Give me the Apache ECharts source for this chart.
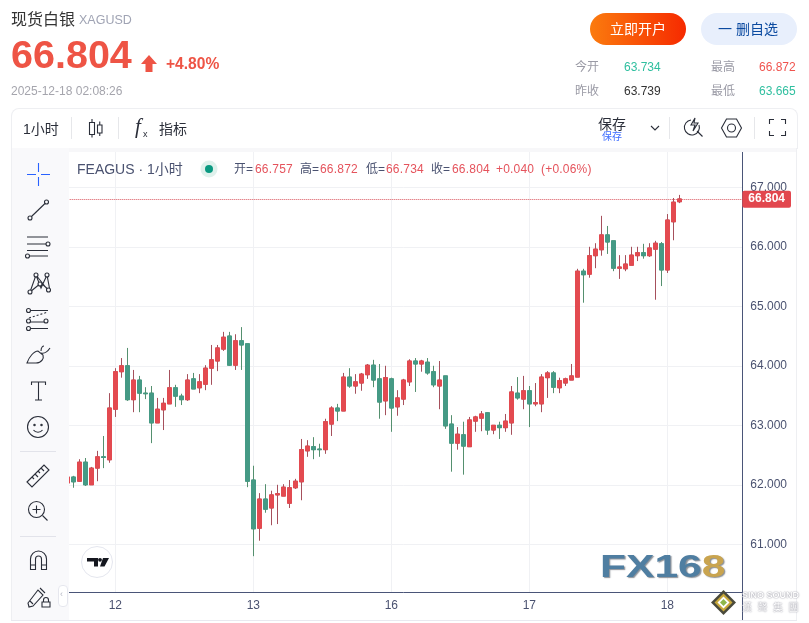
<!DOCTYPE html>
<html>
<head>
<meta charset="utf-8">
<title>现货白银 XAGUSD</title>
<script src="https://cdn.jsdelivr.net/npm/echarts@6/dist/echarts.min.js"></script>
<style>
    html, body { margin: 0; padding: 0; background: #fff; }
    body { width: 809px; height: 623px; position: relative; overflow: hidden; font-family: "Liberation Sans", "Noto Sans CJK SC", sans-serif; }
    #chart { position: absolute; left: 0; top: 0; width: 809px; height: 623px; }
    .t { position: absolute; white-space: nowrap; line-height: 1; }
    .box { position: absolute; }
    svg { position: absolute; overflow: visible; fill: none; stroke: #2a2e39; stroke-width: 1.1; }
    .up { color: #e5535c; }
    .lb { color: #4a5270; }
</style>
</head>
<body>

<div id="chart"></div>

<!-- Page frame around the chart -->
<div class="box" style="left:11px;top:108px;width:785px;height:40px;border:1px solid #eeeff2;border-bottom:0;border-radius:8px 8px 0 0;background:#fff"></div>
<div class="box" style="left:12px;top:148px;width:784px;height:4px;background:#f7f7f9"></div>
<div class="box" style="left:11px;top:148px;width:57px;height:472px;background:#f9f9fb;border-left:1px solid #eeeff2"></div>
<div class="box" style="left:796px;top:148px;width:1px;height:472px;background:#eeeff2"></div>
<div class="box" style="left:11px;top:620px;width:786px;height:1px;background:#e9e9f0"></div>
<div class="box" style="left:742px;top:592px;width:1px;height:28px;background:#4a5578"></div>

<!-- Header -->
<div class="t" style="left:11px;top:12px;font-size:16px;color:#333">现货白银</div>
<div class="t" style="left:79px;top:14px;font-size:12.5px;color:#a0a4b4">XAGUSD</div>
<div class="t" style="left:11px;top:35px;font-size:39.5px;font-weight:bold;color:#ee5445">66.804</div>
<svg style="left:141px;top:55px;stroke:none" width="16" height="17"><path d="M8 0 L16 9 L11.5 9 L11.5 17 L4.5 17 L4.5 9 L0 9 Z" fill="#ee5445"/></svg>
<div class="t" style="left:166px;top:56px;font-size:15.6px;font-weight:bold;color:#ee5445">+4.80%</div>
<div class="t" style="left:11px;top:85px;font-size:12px;color:#a5a5ad">2025-12-18 02:08:26</div>

<div class="box" style="left:590px;top:13px;width:96px;height:32px;border-radius:16px;background:linear-gradient(90deg,#fb7b0e,#f62a00)"></div>
<div class="t" style="left:610px;top:22px;font-size:14px;color:#fff">立即开户</div>
<div class="box" style="left:701px;top:13px;width:96px;height:32px;border-radius:16px;background:#e8effc"></div>
<div class="t" style="left:718px;top:22px;font-size:14px;color:#0b4aa0">一 删自选</div>

<div class="t" style="left:575px;top:61px;font-size:12px;color:#9a9aa5">今开</div>
<div class="t" style="left:624px;top:61px;font-size:12px;color:#2fbf9f">63.734</div>
<div class="t" style="left:711px;top:61px;font-size:12px;color:#9a9aa5">最高</div>
<div class="t" style="left:759px;top:61px;font-size:12px;color:#f0534e">66.872</div>
<div class="t" style="left:575px;top:85px;font-size:12px;color:#9a9aa5">昨收</div>
<div class="t" style="left:624px;top:85px;font-size:12px;color:#333">63.739</div>
<div class="t" style="left:711px;top:85px;font-size:12px;color:#9a9aa5">最低</div>
<div class="t" style="left:759px;top:85px;font-size:12px;color:#2fbf9f">63.665</div>

<!-- Top toolbar -->
<div class="t" style="left:23px;top:122px;font-size:14px;color:#2a2e39">1小时</div>
<div class="box" style="left:71px;top:117px;width:1px;height:22px;background:#e6e7ea"></div>
<svg style="left:88px;top:119px" width="16" height="20">
    <path d="M1.500 3.500h5v12h-5z M4 0v3.500 M4 15.500v3 M9.500 6h4.500v8h-4.500z M11.750 2.500v3.500 M11.750 14v3"/>
</svg>
<div class="box" style="left:118px;top:117px;width:1px;height:22px;background:#e6e7ea"></div>
<div class="t" style="left:135px;top:116px;font-size:21px;font-style:italic;font-family:'Liberation Serif';color:#2a2e39">f</div>
<div class="t" style="left:143px;top:130px;font-size:9px;color:#2a2e39">x</div>
<div class="t" style="left:159px;top:122px;font-size:14px;color:#2a2e39">指标</div>
<div class="t" style="left:598px;top:117px;font-size:14px;color:#2a2e39">保存</div>
<div class="t" style="left:602px;top:132px;font-size:10px;color:#3d6dff">保存</div>
<svg style="left:650px;top:125px" width="10" height="6"><path d="M1 1l4 4l4-4"/></svg>
<div class="box" style="left:669px;top:117px;width:1px;height:22px;background:#e6e7ea"></div>
<svg style="left:684px;top:117px" width="20" height="22">
    <path d="M7 3a7.500 7.500 0 1 0 8 5 M13 14l5.500 5.500 M11 1l-4 7h4l-2 6l5-8h-4z"/>
</svg>
<svg style="left:721px;top:118px" width="21" height="20">
    <path d="M5.500 1h10l5 9l-5 9h-10l-5-9z"/><circle cx="10.500" cy="10" r="4"/>
</svg>
<div class="box" style="left:754px;top:117px;width:1px;height:22px;background:#e6e7ea"></div>
<svg style="left:769px;top:119px" width="17" height="17">
    <path d="M0.500 5v-4.500h4.500 M12 0.500h4.500v4.500 M16.500 12v4.500h-4.500 M5 16.500h-4.500v-4.500"/>
</svg>

<!-- Left drawing toolbar -->
<svg style="left:27px;top:163px;stroke:#2962ff" width="23" height="23">
    <path d="M11.500 0v9 M11.500 14v9 M0 11.500h9 M14 11.500h9"/>
</svg>
<svg style="left:27px;top:199px" width="23" height="23">
    <circle cx="3" cy="19" r="2"/><circle cx="19.500" cy="3" r="2"/><path d="M4.500 17.500L18 4.500"/>
</svg>
<svg style="left:25px;top:236px" width="25" height="22">
    <path d="M2 1h21 M2 8h19 M4 20h19 M2 14.500h21"/><circle cx="23" cy="8" r="2" fill="#f9f9fb"/><circle cx="2.500" cy="20" r="2" fill="#f9f9fb"/>
</svg>
<svg style="left:27px;top:272px" width="24" height="23">
    <path d="M3 20L9 3l5 13L20 3l3 16M3 20l11-9 9 8M9 3l11 14"/>
    <circle cx="3" cy="20" r="2" fill="#f9f9fb"/><circle cx="9" cy="3" r="2" fill="#f9f9fb"/><circle cx="20" cy="3" r="2" fill="#f9f9fb"/><circle cx="21.500" cy="18" r="2" fill="#f9f9fb"/><circle cx="13" cy="12" r="2" fill="#f9f9fb"/>
</svg>
<svg style="left:25px;top:309px" width="25" height="21">
    <path d="M4 1.500h19 M4 13h17 M4 19.500h19"/><path d="M4 9l19-6" stroke-dasharray="2 2"/>
    <circle cx="3.500" cy="1.500" r="2" fill="#f9f9fb"/><circle cx="3.500" cy="12" r="2" fill="#f9f9fb"/><circle cx="3.500" cy="19.500" r="2" fill="#f9f9fb"/><circle cx="21" cy="12" r="2" fill="#f9f9fb"/>
</svg>
<svg style="left:26px;top:345px" width="25" height="20">
    <path d="M1 18h9c6 0 8-5 7-8l-5-4c-4 0-9 6-11 12z M15 6c0-4 2-5 3-5 M15 8c4 1 7-2 9-5"/>
</svg>
<svg style="left:31px;top:381px" width="15" height="20"><path d="M0.500 4V1h14v3 M7.500 1v18 M4 19h7"/></svg>
<svg style="left:27px;top:416px" width="22" height="22">
    <circle cx="11" cy="11" r="10.500"/><circle cx="7.500" cy="9" r="0.700"/><circle cx="14.500" cy="9" r="0.700"/><path d="M6.500 14c2 3 7 3 9 0"/>
</svg>
<div class="box" style="left:20px;top:451px;width:36px;height:1px;background:#e2e3ea"></div>
<svg style="left:26px;top:464px" width="24" height="24">
    <path d="M1 18L18 1l5 5L6 23z M6 13l2 2 M9 10l3 3 M12 7l2 2 M15 4l3 3"/>
</svg>
<svg style="left:28px;top:501px" width="20" height="20">
    <circle cx="8.500" cy="8.500" r="8"/><path d="M14.500 14.500l5 5 M4.500 8.500h8 M8.500 4.500v8"/>
</svg>
<div class="box" style="left:20px;top:536px;width:36px;height:1px;background:#e2e3ea"></div>
<svg style="left:30px;top:551px" width="17" height="19">
    <path d="M0.500 18.500V8a8 8 0 0 1 16 0v10.500h-5V8a3 3 0 0 0-6 0v10.500z M0.500 14h5 M11.500 14h5"/>
</svg>
<svg style="left:27px;top:587px" width="24" height="21">
    <path d="M1 16l1 4 4-1L16 8l-5-5z M3 14l3 3 M13 1l5 5"/><path d="M15 15h8v5h-8z M16.500 15v-2a2.500 2.500 0 0 1 5 0v2"/>
</svg>
<div class="box" style="left:58px;top:585px;width:8px;height:20px;background:#fff;border:1px solid #e6e7ee;border-radius:4px"></div>
<div class="t" style="left:60px;top:590px;font-size:9px;color:#b5b8c4">‹</div>

<!-- Legend line over the plot -->
<div class="t lb" style="left:77px;top:162px;font-size:14px">FEAGUS · 1小时</div>
<svg style="left:200px;top:160px;stroke:none" width="18" height="18"><circle cx="9" cy="9" r="8.500" fill="#dff1ec"/><circle cx="9" cy="9" r="4" fill="#0a9981"/></svg>
<div class="t lb" style="left:234px;top:163px;font-size:12px">开=</div><div class="t up" style="left:255px;top:163px;font-size:12px;letter-spacing:.2px">66.757</div>
<div class="t lb" style="left:300px;top:163px;font-size:12px">高=</div><div class="t up" style="left:320px;top:163px;font-size:12px;letter-spacing:.2px">66.872</div>
<div class="t lb" style="left:366px;top:163px;font-size:12px">低=</div><div class="t up" style="left:386px;top:163px;font-size:12px;letter-spacing:.2px">66.734</div>
<div class="t lb" style="left:431px;top:163px;font-size:12px">收=</div><div class="t up" style="left:452px;top:163px;font-size:12px;letter-spacing:.2px">66.804</div>
<div class="t up" style="left:496px;top:163px;font-size:12px;letter-spacing:.2px">+0.040</div>
<div class="t up" style="left:541px;top:163px;font-size:12px;letter-spacing:.2px">(+0.06%)</div>

<!-- Watermarks -->
<svg style="left:81px;top:546px;stroke:none" width="32" height="32">
    <circle cx="16" cy="16" r="15.500" fill="#fff" stroke="#e4e6ee" stroke-width="1"/>
    <path d="M6 12h11v8.500h-4v-5h-7z M22 12h6l-4.500 8.500h-4.500z" fill="#15171f"/><circle cx="19" cy="13.800" r="1.900" fill="#15171f"/>
</svg>
<div class="t" style="left:600px;top:550px;font-size:32px;font-weight:bold;letter-spacing:0;color:#4f7ea1;text-shadow:1px 1px 1px #8a8f96;transform:scaleX(1.33);transform-origin:0 0">FX16<span style="color:#c9a44f">8</span></div>
<svg style="left:711px;top:590px;stroke:none" width="25" height="25">
    <path d="M12.500 0L25 12.500L12.500 25L0 12.500z" fill="#4a4a3c"/><path d="M12.500 3.500L21.500 12.500L12.500 21.500L3.500 12.500z" fill="#c8a83a"/><path d="M12.500 6.500L18.500 12.500L12.500 18.500L6.500 12.500z" fill="#fff"/><path d="M12.500 9L16 12.500L12.500 16L9 12.500z" fill="#8fb84a"/>
</svg>
<div class="t" style="left:742px;top:591px;font-size:9px;font-weight:bold;color:#fff;text-shadow:0 0 1.500px #667">SINO SOUND</div>
<div class="t" style="left:742px;top:603px;font-size:10px;color:#fff;letter-spacing:5.500px;text-shadow:0 0 1.500px #667">漢聲集團</div>

<script>

// Chart data
// ------------------------------

var opens = [
    62.03, 62.13, 62.06, 62.38, 62.00, 62.28, 62.47, 62.42, 63.27, 63.90, 64.00, 63.43, 63.76, 63.54, 63.54,
    63.04, 63.26, 63.36, 63.63, 63.49, 63.43, 63.78, 63.63, 63.69, 63.96, 64.08, 64.28, 64.50, 64.01, 64.42,
    64.37, 62.08, 61.27, 61.76, 61.61, 61.83, 61.81, 61.69, 61.95, 62.05, 62.57, 62.64, 62.60, 62.59, 63.02,
    63.29, 63.24, 63.81, 63.66, 63.71, 63.85, 64.01, 63.78, 63.41, 63.78, 63.31, 63.44, 63.73, 64.08, 64.03,
    64.06, 63.90, 63.66, 63.83, 63.02, 62.70, 62.84, 62.64, 63.07, 63.12, 63.21, 62.92, 63.00, 62.96, 63.04,
    63.54, 63.44, 63.58, 63.36, 63.36, 63.80, 63.88, 63.63, 63.71, 63.76, 63.81, 65.59, 65.54, 65.85, 65.95,
    66.20, 66.10, 65.64, 65.63, 65.69, 65.85, 65.90, 65.85, 65.96, 66.05, 65.61, 66.42, 66.757
];
var closes = [
    62.13, 62.05, 62.38, 62.00, 62.28, 62.47, 62.46, 63.29, 63.90, 64.00, 63.43, 63.76, 63.54, 63.53, 63.04,
    63.27, 63.37, 63.63, 63.49, 63.43, 63.76, 63.61, 63.73, 63.96, 64.10, 64.30, 64.48, 64.01, 64.42, 64.35,
    62.06, 61.26, 61.76, 61.59, 61.83, 61.85, 61.96, 61.95, 62.06, 62.59, 62.65, 62.59, 62.59, 63.06, 63.29,
    63.24, 63.81, 63.66, 63.73, 63.86, 64.01, 63.76, 63.39, 63.80, 63.29, 63.46, 63.76, 64.08, 64.03, 64.08,
    63.88, 63.68, 63.76, 62.99, 62.70, 62.85, 62.65, 63.09, 63.14, 63.19, 62.92, 63.00, 62.96, 63.07, 63.56,
    63.46, 63.58, 63.36, 63.38, 63.81, 63.88, 63.64, 63.75, 63.78, 63.83, 65.59, 65.53, 65.85, 65.96, 66.20,
    66.08, 65.64, 65.66, 65.71, 65.86, 65.90, 65.85, 65.98, 66.06, 65.61, 66.45, 66.75, 66.804
];
var lows = [
    62.03, 61.95, 62.05, 61.98, 62.00, 62.06, 62.28, 62.37, 63.14, 63.80, 63.41, 63.22, 63.22, 63.44, 62.70,
    63.04, 62.92, 63.36, 63.31, 63.34, 63.41, 63.61, 63.54, 63.59, 63.68, 63.91, 64.25, 64.00, 63.93, 63.93,
    61.96, 60.80, 61.06, 61.53, 61.32, 61.34, 61.81, 61.61, 61.93, 61.74, 62.47, 62.43, 62.47, 62.52, 62.82,
    63.07, 63.24, 63.63, 63.53, 63.58, 63.78, 63.64, 63.11, 63.17, 62.89, 63.16, 63.34, 63.66, 63.56, 63.90,
    63.85, 63.64, 63.27, 62.94, 62.22, 62.59, 62.17, 62.64, 62.89, 62.90, 62.84, 62.85, 62.77, 62.89, 62.84,
    63.43, 63.27, 62.97, 63.32, 63.22, 63.46, 63.54, 63.54, 63.66, 63.76, 63.81, 65.06, 65.48, 65.64, 65.85,
    65.88, 65.59, 65.46, 65.59, 65.69, 65.76, 65.80, 65.83, 65.11, 65.34, 65.56, 66.11, 66.734
];
var highs = [
    62.14, 62.15, 62.43, 62.45, 62.30, 62.57, 62.82, 63.54, 63.96, 64.13, 64.30, 63.93, 63.83, 63.64, 63.66,
    63.46, 63.46, 63.93, 63.68, 63.53, 63.86, 63.88, 63.86, 64.01, 64.35, 64.35, 64.57, 64.57, 64.53, 64.65,
    64.37, 62.32, 61.86, 62.01, 61.90, 62.00, 62.01, 62.08, 62.10, 62.77, 62.75, 62.80, 62.69, 63.11, 63.32,
    63.36, 63.88, 63.96, 63.86, 63.88, 64.03, 64.10, 64.03, 64.00, 63.80, 63.59, 63.78, 64.11, 64.13, 64.10,
    64.13, 64.00, 64.08, 63.83, 63.17, 62.97, 63.06, 63.14, 63.16, 63.24, 63.22, 63.00, 63.06, 63.19, 63.66,
    63.81, 63.83, 63.66, 63.71, 63.86, 63.91, 63.91, 63.80, 63.80, 64.03, 65.63, 65.63, 66.00, 66.06, 66.52,
    66.35, 66.10, 65.86, 65.86, 66.00, 66.00, 66.05, 66.06, 66.10, 66.08, 66.55, 66.82, 66.872
];

// Day labels and the candle each one sits under
var dayLabels = ['12', '13', '16', '17', '18'];
var dayIndexes = [8, 31, 54, 77, 100];

var priceTicks = [61, 62, 63, 64, 65, 66, 67];
var lastPrice = 66.804;

// Candle slots, the last ones stay empty on the right
var slotCount = 113;


// Setup chart
// ------------------------------

var categories = [];
for (var s = 0; s < slotCount; s++) {
    var at = dayIndexes.indexOf(s);
    categories.push(at >= 0 ? dayLabels[at] : '');
}

var wickData = opens.map(function(open, i) {
    return [open, closes[i], lows[i], highs[i]];
});

// Bodies drawn on top of the wicks, they have a brighter colour
var bodyData = opens.map(function(open, i) {
    var close = closes[i];
    return [open, close, Math.min(open, close), Math.max(open, close)];
});

var showDay = function(index, value) {
    return value !== '';
};

var chart = echarts.init(document.getElementById('chart'), null, {renderer: 'canvas'});

chart.setOption({
    animation: false,
    textStyle: {
        fontFamily: '"Liberation Sans", Arial, sans-serif',
        fontSize: 12
    },
    grid: {
        left: 64.3,
        top: 152,
        width: 678,
        height: 440
    },
    xAxis: {
        type: 'category',
        data: categories,
        boundaryGap: true,
        axisLine: {lineStyle: {color: '#4a5578', width: 1}},
        axisTick: {show: false, alignWithLabel: true},
        axisLabel: {
            interval: showDay,
            color: '#4a5270',
            fontSize: 12,
            margin: 8
        },
        splitLine: {
            show: true,
            interval: showDay,
            alignWithLabel: true,
            lineStyle: {color: '#f0f1f4', width: 1}
        }
    },
    yAxis: {
        type: 'value',
        position: 'right',
        min: 60.198,
        max: 67.593,
        axisLine: {show: true, lineStyle: {color: '#4a5578', width: 1}},
        axisTick: {show: false, customValues: priceTicks},
        axisLabel: {
            customValues: priceTicks,
            color: '#4a5270',
            fontSize: 12,
            margin: 8,
            formatter: function(value) {
                return value.toFixed(3);
            }
        },
        splitLine: {
            show: true,
            lineStyle: {color: '#f0f1f4', width: 1}
        }
    },
    series: [{
        name: 'wicks',
        type: 'candlestick',
        data: wickData,
        barWidth: 5,
        itemStyle: {
            color: '#e34a50',
            color0: '#459a85',
            borderColor: '#a6505c',
            borderColor0: '#55906f',
            borderWidth: 1
        }
    }, {
        name: 'bodies',
        type: 'candlestick',
        data: bodyData,
        barWidth: 5,
        itemStyle: {
            color: '#e34a50',
            color0: '#459a85',
            borderColor: '#e34a50',
            borderColor0: '#459a85',
            borderWidth: 1
        },
        markLine: {
            silent: true,
            symbol: 'none',
            lineStyle: {color: '#d9535c', type: 'dotted', width: 1},
            label: {
                position: 'end',
                distance: 0,
                formatter: function() {
                    return lastPrice.toFixed(3);
                },
                color: '#fff',
                fontSize: 12,
                fontWeight: 'bold',
                backgroundColor: '#e2474e',
                padding: [3, 6, 2, 6],
                borderRadius: 2
            },
            data: [{yAxis: lastPrice}]
        }
    }]
});
</script>
</body>
</html>
